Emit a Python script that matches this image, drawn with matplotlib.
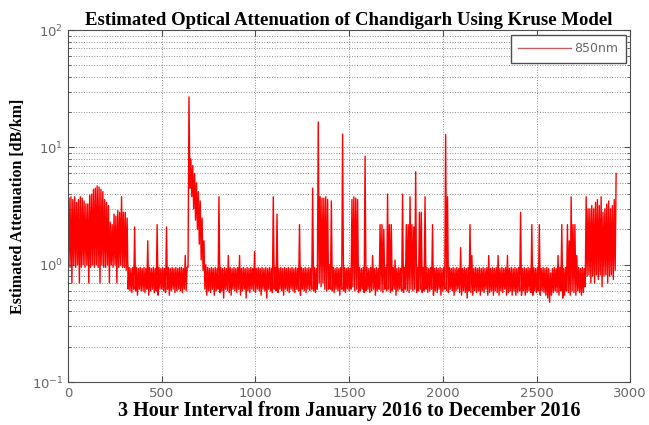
import numpy as np
import matplotlib
matplotlib.use("Agg")
import matplotlib.pyplot as plt

# attenuation, per block of 10 intervals (3 h each):
# the upper and lower level the trace swings between inside each block
block_high = [
    3.7, 3.8, 3.6, 3.8, 3.4, 3.6, 3.8, 3.7, 3.5, 3.3,
    3.3, 3.9, 4.0, 4.4, 4.5, 4.7, 4.6, 4.4, 4.2, 3.6,
    3.4, 3.2, 2.3, 2.2, 2.7, 2.6, 2.9, 2.8, 3.8, 2.8,
    2.8, 2.5, 0.95, 0.93, 0.95, 2.1, 0.95, 0.93, 0.95, 0.93,
    0.95, 0.93, 1.6, 0.95, 0.93, 0.95, 0.93, 2.2, 0.95, 0.93,
    0.95, 0.93, 2.1, 0.95, 0.93, 0.95, 0.93, 0.95, 0.93, 0.95,
    0.95, 0.93, 1.2, 0.95, 27.0, 8.0, 7.0, 6.0, 5.0, 4.2,
    3.5, 2.5, 1.6, 1.0, 0.95, 0.93, 0.95, 0.93, 0.95, 0.93,
    3.8, 0.95, 0.93, 0.95, 0.93, 1.2, 0.95, 0.93, 0.95, 0.93,
    0.95, 1.2, 0.93, 0.95, 0.93, 0.95, 0.93, 0.95, 0.93, 1.3,
    0.93, 0.95, 0.93, 0.95, 0.93, 0.95, 0.93, 0.95, 0.93, 3.8,
    0.95, 2.7, 0.93, 0.95, 0.93, 0.95, 0.93, 0.95, 0.93, 0.95,
    0.93, 0.95, 0.93, 2.2, 0.95, 0.93, 0.95, 0.93, 0.95, 0.93,
    4.5, 0.95, 0.93, 16.5, 3.8, 3.7, 3.7, 3.8, 3.6, 1.0,
    3.5, 0.95, 0.93, 0.95, 0.93, 0.95, 13.0, 0.95, 0.93, 0.95,
    0.93, 3.6, 3.8, 3.7, 3.6, 0.95, 0.93, 0.95, 8.4, 0.95,
    0.93, 0.95, 1.2, 0.93, 0.95, 0.93, 2.2, 2.2, 2.0, 0.95,
    4.0, 2.2, 2.2, 0.95, 1.1, 0.93, 0.95, 0.93, 4.0, 0.95,
    2.2, 2.2, 3.8, 2.2, 2.1, 6.2, 0.95, 2.8, 2.8, 0.95,
    3.8, 0.95, 0.93, 0.95, 2.2, 0.93, 0.95, 0.93, 0.95, 0.93,
    0.95, 12.9, 3.8, 0.95, 0.93, 0.95, 0.93, 0.95, 0.93, 1.4,
    0.93, 0.95, 0.93, 0.95, 2.2, 1.2, 0.93, 0.95, 0.93, 0.95,
    0.93, 0.95, 0.93, 0.95, 1.2, 0.93, 0.95, 0.93, 0.95, 1.2,
    0.93, 0.95, 0.93, 0.95, 1.2, 0.93, 0.95, 0.93, 0.95, 0.93,
    0.95, 2.8, 0.93, 0.95, 0.93, 0.95, 0.93, 2.2, 0.95, 0.93,
    0.95, 2.2, 0.93, 0.95, 0.93, 0.95, 0.93, 0.85, 0.93, 0.95,
    0.93, 1.2, 0.95, 2.2, 0.93, 0.95, 2.2, 1.6, 3.8, 2.2,
    2.2, 1.2, 0.95, 0.93, 0.95, 0.93, 3.8, 3.0, 3.0, 3.2,
    3.0, 3.4, 3.6, 3.2, 3.8, 2.8, 3.0, 3.3, 3.5, 3.0,
    3.2, 3.6, 6.0,
]
block_low = [
    1.0, 0.95, 0.7, 1.0, 0.95, 1.0, 0.7, 0.95, 1.0, 0.95,
    1.0, 0.7, 0.95, 1.0, 0.95, 1.0, 0.95, 0.7, 1.0, 0.95,
    0.95, 1.0, 0.7, 1.0, 0.95, 1.0, 0.7, 0.95, 1.0, 0.95,
    0.95, 0.9, 0.62, 0.6, 0.58, 0.62, 0.6, 0.55, 0.62, 0.6,
    0.6, 0.58, 0.62, 0.55, 0.6, 0.62, 0.58, 0.6, 0.55, 0.62,
    0.62, 0.6, 0.58, 0.62, 0.55, 0.6, 0.62, 0.58, 0.6, 0.62,
    0.6, 0.58, 0.62, 0.6, 0.95, 4.5, 3.8, 3.0, 2.4, 2.0,
    1.5, 1.1, 0.9, 0.62, 0.55, 0.6, 0.58, 0.62, 0.55, 0.6,
    0.62, 0.58, 0.6, 0.52, 0.62, 0.6, 0.58, 0.55, 0.62, 0.6,
    0.58, 0.62, 0.55, 0.6, 0.62, 0.52, 0.6, 0.58, 0.62, 0.6,
    0.58, 0.62, 0.6, 0.55, 0.62, 0.6, 0.52, 0.62, 0.6, 0.58,
    0.62, 0.6, 0.58, 0.62, 0.6, 0.55, 0.62, 0.6, 0.58, 0.62,
    0.6, 0.58, 0.62, 0.6, 0.55, 0.62, 0.6, 0.58, 0.62, 0.6,
    0.62, 0.6, 0.58, 0.62, 0.7, 0.65, 0.7, 0.62, 0.6, 0.62,
    0.62, 0.6, 0.58, 0.62, 0.6, 0.55, 0.62, 0.6, 0.58, 0.62,
    0.6, 0.62, 0.65, 0.6, 0.62, 0.58, 0.6, 0.62, 0.58, 0.6,
    0.62, 0.58, 0.6, 0.62, 0.55, 0.6, 0.62, 0.6, 0.58, 0.62,
    0.6, 0.62, 0.58, 0.6, 0.62, 0.55, 0.6, 0.62, 0.6, 0.58,
    0.62, 0.6, 0.58, 0.62, 0.6, 0.62, 0.58, 0.6, 0.62, 0.58,
    0.6, 0.62, 0.58, 0.6, 0.62, 0.55, 0.6, 0.58, 0.62, 0.55,
    0.6, 0.62, 0.6, 0.58, 0.62, 0.6, 0.55, 0.6, 0.62, 0.58,
    0.55, 0.6, 0.58, 0.52, 0.6, 0.58, 0.55, 0.6, 0.58, 0.6,
    0.55, 0.6, 0.58, 0.62, 0.55, 0.58, 0.6, 0.55, 0.6, 0.58,
    0.55, 0.6, 0.58, 0.62, 0.55, 0.58, 0.6, 0.55, 0.6, 0.55,
    0.58, 0.6, 0.55, 0.6, 0.55, 0.58, 0.6, 0.58, 0.55, 0.6,
    0.58, 0.6, 0.55, 0.6, 0.58, 0.55, 0.52, 0.48, 0.55, 0.58,
    0.6, 0.58, 0.55, 0.6, 0.52, 0.55, 0.6, 0.58, 0.55, 0.6,
    0.58, 0.55, 0.6, 0.58, 0.55, 0.58, 0.65, 0.8, 0.82, 0.7,
    0.8, 0.7, 0.82, 0.75, 0.82, 0.65, 0.8, 0.82, 0.7, 0.8,
    0.82, 0.75, 0.9,
]
block = 10

# trace goes low -> high once per half block
attenuation = np.column_stack([block_low, block_high]).ravel()
intervals = np.arange(len(attenuation)) * (block / 2)

fig = plt.figure(figsize=(6.49, 4.25), dpi=100)
ax = fig.add_axes([0.105, 0.101, 0.866, 0.828])

ax.plot(intervals, attenuation, color="red", lw=1.0, label="850nm")

ax.set_yscale("log")
ax.set_xlim(0, 3000)
ax.set_ylim(0.1, 100)
ax.set_xticks(range(0, 3001, 500))
ax.xaxis.set_minor_locator(matplotlib.ticker.NullLocator())

ax.grid(True, which="major", ls=":", color="0.55", lw=0.7)
ax.grid(True, which="minor", axis="y", ls=":", color="0.55", lw=0.7)
ax.tick_params(which="both", direction="in", top=True, right=True,
               labelsize=9.5, labelcolor="0.4", color="0.3")
ax.tick_params(which="major", length=4)
ax.tick_params(which="minor", length=2)
for s in ax.spines.values():
    s.set_color("0.3")

ax.set_title("Estimated Optical Attenuation of Chandigarh Using Kruse Model",
             family="Liberation Serif", weight="bold", fontsize=13.5, pad=4)
ax.set_xlabel("3 Hour Interval from January 2016 to December 2016",
              family="Liberation Serif", weight="bold", fontsize=14.5, labelpad=1)
ax.set_ylabel("Estimated Attenuation [dB/km]",
              family="Liberation Serif", weight="bold", fontsize=11.5, labelpad=4)

leg = ax.legend(loc="upper right", fancybox=False, framealpha=1,
                edgecolor="0.3", fontsize=9, handlelength=4.2,
                handletextpad=0.3, borderpad=0.6, borderaxespad=0.35)
for t in leg.get_texts():
    t.set_color("0.4")
leg.get_lines()[0].set_color("#c06060")

fig.savefig("out.png", dpi=100)
